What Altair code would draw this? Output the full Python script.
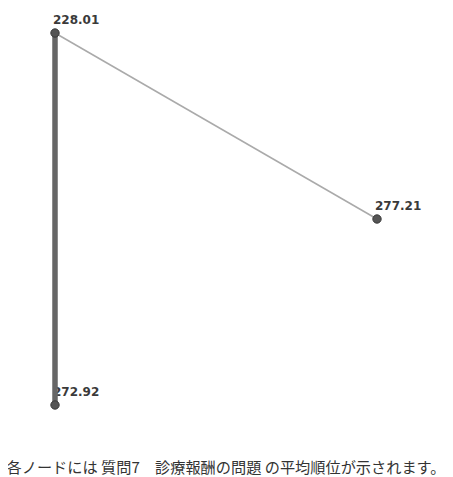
import altair as alt
import pandas as pd

# Node data (layout positions in normalized layout units)
node_labels = ["228.01", "277.21", "272.92"]
node_values = [228.01, 277.21, 272.92]
node_x = [0.0, 1.0, 0.0]
node_y = [0.0, 0.5, 1.0]

# Edge data
edge_source = [0, 0]
edge_target = [2, 1]
edge_width = [5.5, 1.5]
edge_color = ["#666666", "#aaaaaa"]

caption = "各ノードには 質問7　診療報酬の問題 の平均順位が示されます。"

W, H = 437, 469
left, right_px = 47, 369
top, bottom_px = 25, 397
ux = right_px - left
uy = bottom_px - top
xdom = [-left / ux, (W - left) / ux]
ydom = [-top / uy, (H - top) / uy]

nodes = pd.DataFrame({"x": node_x, "y": node_y, "label": node_labels, "value": node_values})
rows = []
for i, (s, t) in enumerate(zip(edge_source, edge_target)):
    for k, n in enumerate((s, t)):
        rows.append({"edge": i, "order": k, "x": node_x[n], "y": node_y[n],
                     "w": edge_width[i], "c": edge_color[i]})
edges = pd.DataFrame(rows)

xs = alt.Scale(domain=xdom, nice=False, zero=False)
ys = alt.Scale(domain=ydom, nice=False, zero=False, reverse=True)
X = alt.X("x:Q", scale=xs, axis=None)
Y = alt.Y("y:Q", scale=ys, axis=None)

labels = alt.Chart(nodes).mark_text(
    align="left", baseline="alphabetic", dx=-2, dy=-9,
    font="DejaVu Sans", fontSize=12, fontWeight="bold", color="#3a3a3a"
).encode(x=X, y=Y, text="label:N")

lines = alt.Chart(edges).mark_line().encode(
    x=X, y=Y, detail="edge:N", order="order:O",
    strokeWidth=alt.StrokeWidth("w:Q", scale=None),
    color=alt.Color("c:N", scale=None),
)

points = alt.Chart(nodes).mark_point(
    filled=True, size=70, color="#555555", stroke="#3a3a3a", strokeWidth=1, opacity=1
).encode(x=X, y=Y)

cap = alt.Chart(pd.DataFrame({"t": [caption]})).mark_text(
    align="center", baseline="alphabetic", font="Noto Sans CJK JP",
    fontSize=15.2, color="#333333"
).encode(x=alt.value(218), y=alt.value(465), text="t:N")

chart = alt.layer(labels, lines, points, cap).properties(
    width=W, height=H, padding=0, autosize=alt.AutoSizeParams(type="none")
).configure_view(stroke=None)

chart.save("out.html", embed_options={"renderer": "svg", "actions": False})
